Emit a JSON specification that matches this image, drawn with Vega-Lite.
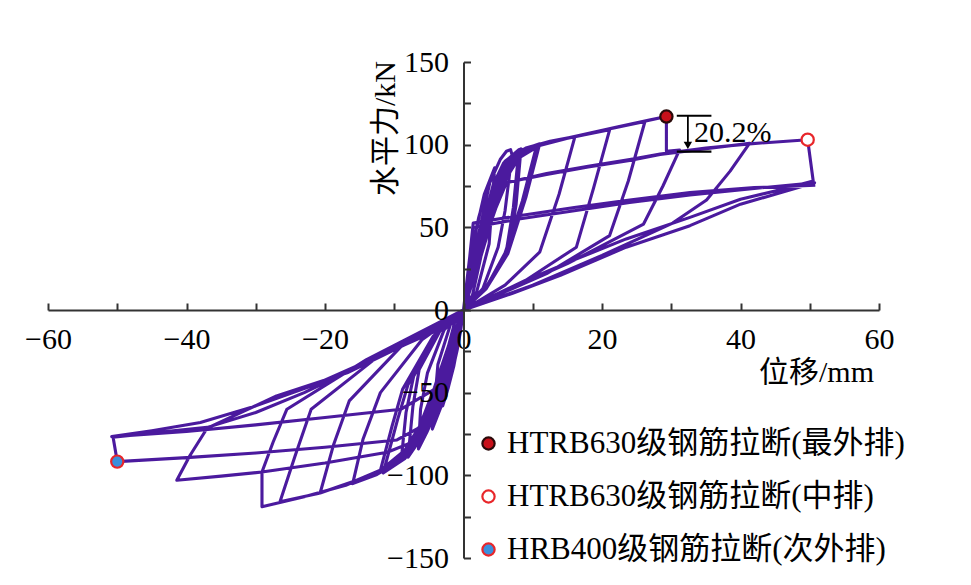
{
  "$schema": "https://vega.github.io/schema/vega-lite/v6.json",
  "background": "white",
  "autosize": "none",
  "width": 831,
  "height": 496,
  "padding": {"left": 48, "top": 62, "right": 92, "bottom": 27},
  "datasets": {
    "curve": [
      {"d":0,"f":0},
      {"d":0.4,"f":14},{"d":0.9,"f":28},{"d":1.5,"f":42},
      {"d":1.2,"f":20},{"d":0.6,"f":6},{"d":0,"f":0},
      {"d":-0.4,"f":-12},{"d":-0.9,"f":-24},{"d":-1.5,"f":-35},
      {"d":-1.2,"f":-16},{"d":-0.6,"f":-5},{"d":0,"f":0},
      {"d":0.6,"f":20},{"d":1.4,"f":40},{"d":2.2,"f":56},{"d":3,"f":68},
      {"d":2.5,"f":32},{"d":1.3,"f":9},{"d":0,"f":0},
      {"d":-0.6,"f":-16},{"d":-1.4,"f":-34},{"d":-2.2,"f":-47},{"d":-3,"f":-58},
      {"d":-2.5,"f":-27},{"d":-1.3,"f":-8},{"d":0,"f":0},
      {"d":0.8,"f":24},{"d":1.8,"f":48},{"d":3,"f":70},{"d":4.5,"f":86},
      {"d":3.7,"f":40},{"d":1.9,"f":11},{"d":0,"f":0},
      {"d":-0.8,"f":-18},{"d":-2,"f":-40},{"d":-3.2,"f":-58},{"d":-4.5,"f":-72},
      {"d":-3.7,"f":-33},{"d":-1.9,"f":-9},{"d":0,"f":0},
      {"d":1,"f":26},{"d":2.4,"f":50},{"d":3.8,"f":77},{"d":5.3,"f":91},{"d":6.2,"f":96},{"d":6.8,"f":97},
      {"d":7,"f":94},{"d":6,"f":60},{"d":5,"f":38},{"d":2.8,"f":13},{"d":0,"f":0},
      {"d":-1,"f":-20},{"d":-2.4,"f":-42},{"d":-3.8,"f":-60},{"d":-5.3,"f":-74},{"d":-6.5,"f":-84},
      {"d":-6.2,"f":-60},{"d":-5.2,"f":-38},{"d":-2.8,"f":-12},{"d":0,"f":0},
      {"d":1.2,"f":26},{"d":2.8,"f":52},{"d":4.3,"f":76},{"d":5.8,"f":89},{"d":8,"f":97},
      {"d":7.2,"f":62},{"d":6.2,"f":36},{"d":3.2,"f":13},{"d":0,"f":0},
      {"d":-1.2,"f":-20},{"d":-2.8,"f":-43},{"d":-4.5,"f":-63},{"d":-6.2,"f":-78},{"d":-8,"f":-89},
      {"d":-7.3,"f":-58},{"d":-6.4,"f":-36},{"d":-3.3,"f":-12},{"d":0,"f":0},
      {"d":1.3,"f":27},{"d":2.9,"f":53},{"d":4.4,"f":77},{"d":6,"f":90},{"d":8.3,"f":97.5},
      {"d":7.6,"f":64},{"d":6.6,"f":38},{"d":3.4,"f":14},{"d":0,"f":0},
      {"d":-1.3,"f":-21},{"d":-2.9,"f":-44},{"d":-4.7,"f":-65},{"d":-6.6,"f":-80},{"d":-9,"f":-91},
      {"d":-8.3,"f":-62},{"d":-7.2,"f":-40},{"d":-3.6,"f":-13},{"d":0,"f":0},
      {"d":1.4,"f":28},{"d":3,"f":54},{"d":4.6,"f":78},{"d":6.2,"f":90},{"d":8,"f":96},{"d":10.6,"f":100},
      {"d":8.5,"f":66},{"d":5.8,"f":32},{"d":3,"f":12},{"d":0,"f":0},
      {"d":-1.4,"f":-22},{"d":-3,"f":-44},{"d":-4.8,"f":-66},{"d":-6.5,"f":-80},{"d":-8.5,"f":-90},{"d":-11.6,"f":-98.6},
      {"d":-9.5,"f":-66},{"d":-8,"f":-45},{"d":-4,"f":-15},{"d":0,"f":0},
      {"d":1.5,"f":28},{"d":3.1,"f":55},{"d":4.8,"f":79},{"d":6.5,"f":91},{"d":8.5,"f":97},{"d":11,"f":100.5},
      {"d":9,"f":68},{"d":6.4,"f":34},{"d":3.3,"f":13},{"d":0,"f":0},
      {"d":-1.5,"f":-22},{"d":-3.1,"f":-45},{"d":-5,"f":-67},{"d":-7,"f":-81},{"d":-9.2,"f":-91},{"d":-12,"f":-97},
      {"d":-10.3,"f":-70},{"d":-8.8,"f":-48},{"d":-4.4,"f":-16},{"d":0,"f":0},
      {"d":1.6,"f":28},{"d":3.3,"f":55},{"d":5,"f":80},{"d":6.8,"f":92},{"d":9,"f":98},{"d":12.5,"f":102},{"d":16.1,"f":105},
      {"d":13.8,"f":70},{"d":11,"f":35},{"d":6,"f":15},{"d":0,"f":0},
      {"d":-1.6,"f":-22},{"d":-3.3,"f":-45},{"d":-5.2,"f":-68},{"d":-7,"f":-82},{"d":-9.5,"f":-92},{"d":-12.5,"f":-99.5},{"d":-16,"f":-105},
      {"d":-14.5,"f":-78},{"d":-12,"f":-50},{"d":-6,"f":-18},{"d":0,"f":0},
      {"d":1.8,"f":28},{"d":3.6,"f":56},{"d":5.4,"f":80},{"d":7.2,"f":92},{"d":10,"f":99},{"d":14,"f":103},{"d":17.5,"f":106},{"d":21.1,"f":109},
      {"d":18.8,"f":74},{"d":16.3,"f":38},{"d":9,"f":18},{"d":0,"f":0},
      {"d":-1.8,"f":-22},{"d":-3.6,"f":-46},{"d":-5.6,"f":-69},{"d":-7.5,"f":-83},{"d":-10,"f":-93},{"d":-14,"f":-101},{"d":-17.5,"f":-106},{"d":-20.7,"f":-110.7},
      {"d":-18.8,"f":-82},{"d":-16.5,"f":-55},{"d":-9,"f":-22},{"d":0,"f":0},
      {"d":2,"f":28},{"d":3.9,"f":56},{"d":5.8,"f":80},{"d":7.6,"f":92},{"d":10.5,"f":99},{"d":15,"f":104},{"d":20.5,"f":109},{"d":26.2,"f":114},
      {"d":23.8,"f":78},{"d":21.1,"f":45},{"d":12,"f":22},{"d":0,"f":0},
      {"d":-2,"f":-22},{"d":-3.9,"f":-46},{"d":-6,"f":-70},{"d":-8,"f":-84},{"d":-11,"f":-95},{"d":-16,"f":-104},{"d":-21,"f":-111},{"d":-26.5,"f":-116},
      {"d":-24.3,"f":-88},{"d":-22,"f":-60},{"d":-12,"f":-27},{"d":0,"f":0},
      {"d":2.2,"f":28},{"d":4.2,"f":56},{"d":6.2,"f":80},{"d":8,"f":92},{"d":11,"f":99.5},{"d":16,"f":105},{"d":22,"f":110.5},{"d":27,"f":115},{"d":29.3,"f":117},
      {"d":29.3,"f":96},{"d":31.2,"f":96.8},
      {"d":28.8,"f":75},{"d":26,"f":52},{"d":15,"f":28},{"d":0,"f":0},
      {"d":-2.2,"f":-22},{"d":-4.2,"f":-47},{"d":-6.3,"f":-70},{"d":-8.5,"f":-85},{"d":-12,"f":-97},{"d":-17,"f":-106},{"d":-23,"f":-113},{"d":-29.1,"f":-119},
      {"d":-29.1,"f":-98},
      {"d":-27.5,"f":-80},{"d":-25.5,"f":-60},{"d":-14,"f":-30},{"d":0,"f":0},
      {"d":2.3,"f":30},{"d":4.3,"f":58},{"d":6,"f":77},{"d":12,"f":82},{"d":18,"f":86.5},{"d":24,"f":90.5},{"d":28.4,"f":94},{"d":35,"f":97.5},{"d":41.3,"f":100.8},
      {"d":38.5,"f":84},{"d":35.1,"f":66.5},{"d":30.2,"f":52.6},{"d":20,"f":33},{"d":10,"f":15},{"d":0,"f":0},
      {"d":-1.2,"f":-20},{"d":-2.5,"f":-40},{"d":-5,"f":-70},{"d":-8,"f":-81},{"d":-11,"f":-86},{"d":-20,"f":-92.5},{"d":-29.1,"f":-98},{"d":-35,"f":-100.5},{"d":-41.4,"f":-103},
      {"d":-39.5,"f":-88},{"d":-37,"f":-71.4},{"d":-27,"f":-52},{"d":-16.8,"f":-38},{"d":-8,"f":-20},{"d":-2.4,"f":-8},{"d":0,"f":0},
      {"d":2.4,"f":32},{"d":4.5,"f":60},{"d":6.2,"f":77},{"d":12,"f":82.5},{"d":18,"f":87},{"d":24,"f":91},{"d":28.4,"f":94.3},{"d":35,"f":98},{"d":41.3,"f":100.5},{"d":49.7,"f":103},
      {"d":50.5,"f":78},
      {"d":45,"f":72},{"d":40,"f":67},{"d":32.7,"f":56},{"d":23.5,"f":43},{"d":15.8,"f":30},{"d":8,"f":16},{"d":0,"f":0},
      {"d":-1.2,"f":-20},{"d":-2.6,"f":-42},{"d":-5,"f":-68},{"d":-9.6,"f":-78.6},{"d":-20,"f":-83},{"d":-30,"f":-86.5},{"d":-40,"f":-89.3},{"d":-50,"f":-91.7},
      {"d":-50.6,"f":-77},
      {"d":-44,"f":-74},{"d":-37,"f":-71},{"d":-30,"f":-62},{"d":-23,"f":-50},{"d":-16.8,"f":-37.5},{"d":-9,"f":-22},{"d":-1.5,"f":-8},{"d":0,"f":0},
      {"d":0.7,"f":25},{"d":1.4,"f":50},{"d":8,"f":55},{"d":16,"f":60},{"d":24,"f":65},{"d":32.7,"f":69.6},{"d":42,"f":73.5},{"d":50.7,"f":77},
      {"d":45,"f":70},{"d":40,"f":64},{"d":32.7,"f":51},{"d":23.5,"f":38},{"d":14,"f":21},{"d":7,"f":10},{"d":0,"f":0},
      {"d":-1,"f":-25},{"d":-3,"f":-45},{"d":-9,"f":-60},{"d":-20,"f":-65},{"d":-30,"f":-69.5},{"d":-40,"f":-73.5},{"d":-50.8,"f":-76.6},
      {"d":-45,"f":-73},{"d":-38,"f":-68},{"d":-30,"f":-58},{"d":-22,"f":-46},{"d":-15,"f":-33},{"d":-8,"f":-19},{"d":-1.5,"f":-6},{"d":0,"f":0},
      {"d":0.7,"f":24},{"d":1.4,"f":52.6},{"d":8,"f":57},{"d":16,"f":62},{"d":24,"f":66.5},{"d":32.7,"f":71},{"d":42,"f":74},{"d":50.8,"f":75.5}
    ],
    "fracture": [
      {"type": "HTRB630级钢筋拉断(最外排)", "d": 29.3, "f": 117},
      {"type": "HTRB630级钢筋拉断(中排)", "d": 49.7, "f": 103},
      {"type": "HRB400级钢筋拉断(次外排)", "d": -50, "f": -91.7}
    ],
    "bracket": [
      {"d": 30.8, "d2": 35.8, "f": 117.5},
      {"d": 30.8, "d2": 35.8, "f": 95.8}
    ],
    "drop": [
      {"d": 32.4, "f": 117.5, "f2": 99.5, "label": "20.2%", "tx": 33.3, "ty": 107}
    ]
  },
  "encoding": {
    "x": {
      "field": "d",
      "type": "quantitative",
      "scale": {"domain": [-60, 60], "nice": false},
      "axis": {
        "orient": "bottom",
        "offset": -248,
        "values": [-60, -50, -40, -30, -20, -10, 0, 10, 20, 30, 40, 50, 60],
        "labelExpr": "datum.value % 20 === 0 ? datum.label : ''",
        "tickSize": -7,
        "labelPadding": 21,
        "labelFlush": false,
        "labelOverlap": false,
        "title": "位移/mm",
        "titleX": 768,
        "titleY": 62,
        "titleAlign": "center",
        "titleBaseline": "middle",
        "zindex": 1
      }
    },
    "y": {
      "field": "f",
      "type": "quantitative",
      "scale": {"domain": [-150, 150], "nice": false},
      "axis": {
        "orient": "left",
        "offset": -415.5,
        "values": [-150, -125, -100, -75, -50, -25, 0, 25, 50, 75, 100, 125, 150],
        "labelExpr": "datum.value % 50 === 0 ? datum.label : ''",
        "tickSize": -7,
        "labelPadding": 22,
        "labelOverlap": false,
        "title": "水平力/kN",
        "titleAngle": -90,
        "titleX": -78,
        "titleY": 66,
        "titleAlign": "center",
        "titleBaseline": "middle",
        "zindex": 1
      }
    }
  },
  "layer": [
    {
      "data": {"name": "curve"},
      "mark": {"type": "line", "color": "#4b1a9e", "strokeWidth": 3.1, "strokeJoin": "round"},
      "encoding": {"order": {"value": null}}
    },
    {
      "data": {"name": "bracket"},
      "mark": {"type": "rule", "color": "black", "strokeWidth": 2.2},
      "encoding": {"x2": {"field": "d2"}}
    },
    {
      "data": {"name": "drop"},
      "mark": {"type": "rule", "color": "black", "strokeWidth": 1.8},
      "encoding": {"y2": {"field": "f2"}}
    },
    {
      "data": {"name": "drop"},
      "mark": {"type": "point", "shape": "triangle-down", "filled": true, "color": "black", "size": 70, "opacity": 1},
      "encoding": {"y": {"field": "f2", "type": "quantitative"}}
    },
    {
      "data": {"name": "drop"},
      "mark": {"type": "text", "align": "left", "baseline": "middle", "font": "Liberation Serif", "fontSize": 30, "color": "black"},
      "encoding": {
        "x": {"field": "tx", "type": "quantitative"},
        "y": {"field": "ty", "type": "quantitative"},
        "text": {"field": "label"}
      }
    },
    {
      "data": {"name": "fracture"},
      "mark": {"type": "point", "shape": "circle", "size": 150, "strokeWidth": 2.2, "opacity": 1},
      "encoding": {
        "fill": {
          "field": "type",
          "type": "nominal",
          "scale": {
            "domain": ["HTRB630级钢筋拉断(最外排)", "HTRB630级钢筋拉断(中排)", "HRB400级钢筋拉断(次外排)"],
            "range": ["#c8101a", "white", "#3a8fdc"]
          },
          "legend": {
            "orient": "none",
            "legendX": 425,
            "legendY": 366,
            "title": null,
            "padding": 0,
            "labelFont": "Liberation Serif, Noto Sans CJK SC",
            "labelFontSize": 31,
            "labelColor": "black",
            "labelLimit": 600,
            "labelOffset": 3,
            "symbolSize": 150,
            "symbolStrokeWidth": 2.2,
            "symbolType": "circle",
            "rowPadding": 21
          }
        },
        "stroke": {
          "field": "type",
          "type": "nominal",
          "scale": {
            "domain": ["HTRB630级钢筋拉断(最外排)", "HTRB630级钢筋拉断(中排)", "HRB400级钢筋拉断(次外排)"],
            "range": ["#2a0a0a", "#e8262a", "#e8262a"]
          }
        }
      }
    }
  ],
  "config": {
    "view": {"stroke": null},
    "axis": {
      "grid": false,
      "domainColor": "#333333",
      "domainWidth": 2,
      "tickColor": "#333333",
      "tickWidth": 2,
      "labelFont": "Liberation Serif",
      "labelFontSize": 30,
      "labelColor": "black",
      "titleFont": "Liberation Serif, Noto Sans CJK SC",
      "titleFontSize": 30,
      "titleFontWeight": "normal",
      "titleColor": "black"
    }
  }
}
